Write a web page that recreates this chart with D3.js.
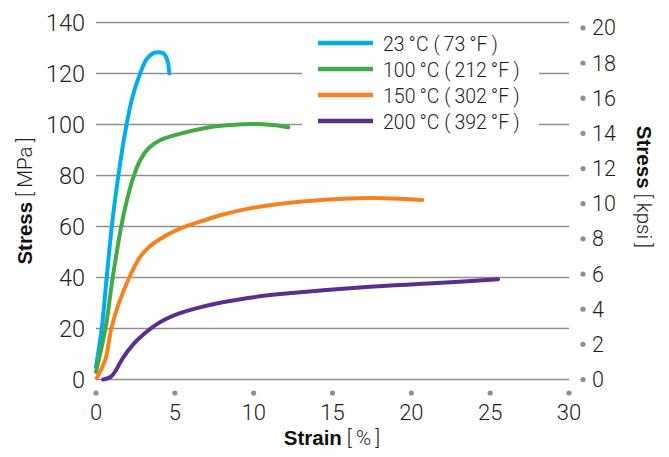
<!DOCTYPE html>
<html><head><meta charset="utf-8">
<script src="https://cdn.jsdelivr.net/npm/d3@7"></script>
<style>
html,body{margin:0;padding:0;background:#fff;}
svg{display:block;}
.lt{font-family:Roboto,"Liberation Sans",sans-serif;font-weight:300;fill:#1e1e1e;}
.bd{font-family:"Liberation Sans",Arial,sans-serif;font-weight:700;fill:#111;}
</style></head>
<body>
<svg id="c" width="669" height="457"></svg>
<script>
const series23 = [[0,5],[0.36,20],[0.68,40],[1.0,60],[1.42,80],[1.85,97],[2.3,110.5],[2.8,120],[3.2,125.5],[3.6,127.9],[4.0,128.3],[4.3,127.8],[4.52,125.3],[4.65,120]];
const series100 = [[0,3],[0.6,20],[1.06,40],[1.6,60],[1.95,70],[2.35,79],[2.8,86],[3.35,90.8],[4.06,93.8],[5.3,96.3],[7.2,98.9],[8.6,99.8],[10,100.2],[11.2,99.8],[12.2,98.9]];
const series150 = [[0.04,0.5],[0.6,8],[0.95,19.4],[1.37,28.5],[2.11,40],[2.75,47.6],[3.35,51.9],[4.2,55.6],[5.11,58.6],[6.6,61.9],[8.0,64.6],[9.76,67.1],[12.93,69.7],[16.1,71.0],[18.2,71.1],[20.7,70.4]];
const series200 = [[0.46,0],[0.95,1.1],[1.27,3.7],[1.69,8.3],[2.32,13.5],[3.06,17.9],[3.7,21.0],[4.4,23.6],[5.28,25.9],[6.34,27.9],[8.03,30.3],[10.14,32.4],[11.87,33.6],[17.15,36.3],[21.4,37.7],[25.5,39.3]];
const legendLabels = ["23\u2009°C (\u200973\u2009°F\u2009)","100\u2009°C (\u2009212\u2009°F\u2009)","150\u2009°C (\u2009302\u2009°F\u2009)","200\u2009°C (\u2009392\u2009°F\u2009)"];
const colors = ["#00aeef","#44aa46","#f5821f","#5c2d91"];
const xTicks = [0,5,10,15,20,25,30];
const yTicks = [0,20,40,60,80,100,120,140];
const kpsiTicks = [0,2,4,6,8,10,12,14,16,18,20];
const MPA_PER_KPSI = 6.895;

const svg = d3.select("#c");
const x = d3.scaleLinear().domain([0,30]).range([96,569]);
const y = d3.scaleLinear().domain([0,140]).range([379.5,22.5]);
const yk = d3.scaleLinear().domain([0,140/MPA_PER_KPSI]).range([379.5,22.5]);

// gridlines
svg.append("g").selectAll("line").data(yTicks).join("line")
  .attr("x1",x(0)).attr("x2",x(30)).attr("y1",d=>y(d)).attr("y2",d=>y(d))
  .attr("stroke","#8f8f8f").attr("stroke-width",1.4);

// left tick labels
svg.append("g").selectAll("text").data(yTicks).join("text").attr("class","lt")
  .attr("x",85).attr("y",d=>y(d)+8.3).attr("text-anchor","end")
  .style("font-size","23.5px").text(d=>d);

// bottom ticks
const bx = svg.append("g");
bx.selectAll("circle").data(xTicks).join("circle")
  .attr("cx",d=>x(d)).attr("cy",393).attr("r",2.6).attr("fill","#8f8f8f");
bx.selectAll("text").data(xTicks).join("text").attr("class","lt")
  .attr("x",d=>x(d)).attr("y",420).attr("text-anchor","middle")
  .style("font-size","22px").text(d=>d);

// right ticks
const rx = svg.append("g");
rx.selectAll("circle").data(kpsiTicks).join("circle")
  .attr("cx",583).attr("cy",d=>yk(d)).attr("r",2.6).attr("fill","#8f8f8f");
rx.selectAll("text").data(kpsiTicks).join("text").attr("class","lt")
  .attr("x",592).attr("y",d=>yk(d)+7.5).attr("text-anchor","start")
  .style("font-size","21.5px").text(d=>d);

// axis titles
const xt = svg.append("text").attr("x",332).attr("y",445).attr("text-anchor","middle").style("font-size","20.5px");
xt.append("tspan").attr("class","bd").text("Strain");
xt.append("tspan").attr("class","lt").text(" [\u2009%\u2009]");

const yl = svg.append("text").attr("transform","translate(31.5,201) rotate(-90)").attr("text-anchor","middle").style("font-size","20.5px");
yl.append("tspan").attr("class","bd").text("Stress");
yl.append("tspan").attr("class","lt").text(" [\u2009MPa\u2009]");

const yr = svg.append("text").attr("transform","translate(636.5,187) rotate(90)").attr("text-anchor","middle").style("font-size","20.5px");
yr.append("tspan").attr("class","bd").text("Stress");
yr.append("tspan").attr("class","lt").text(" [\u2009kpsi\u2009]");

// legend background
svg.append("rect").attr("x",302).attr("y",30).attr("width",237).attr("height",105).attr("fill","#fff");

// curves
const line = d3.line().x(d=>x(d[0])).y(d=>y(d[1])).curve(d3.curveCatmullRom.alpha(0.5));
const allSeries = [series23,series100,series150,series200];
svg.append("g").selectAll("path").data(allSeries).join("path")
  .attr("d",line).attr("fill","none").attr("stroke",(d,i)=>colors[i])
  .attr("stroke-width",4).attr("stroke-linecap","round").attr("stroke-linejoin","round");

// legend
const lg = svg.append("g");
legendLabels.forEach((lab,i)=>{
  const ly = 43 + i*26;
  lg.append("line").attr("x1",318).attr("x2",373).attr("y1",ly).attr("y2",ly)
    .attr("stroke",colors[i]).attr("stroke-width",4.5);
  lg.append("text").attr("class","lt").attr("x",383).attr("y",ly+8)
    .style("font-size","19.5px").text(lab);
});
</script>
</body></html>
